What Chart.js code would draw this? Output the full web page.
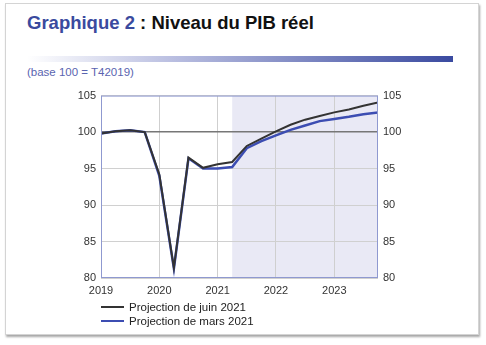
<!DOCTYPE html>
<html>
<head>
<meta charset="utf-8">
<script src="https://cdn.jsdelivr.net/npm/chart.js@4"></script>
<style>
  body { margin: 0; background: #fff; font-family: "Liberation Sans", Arial, sans-serif; }
  #card { position: absolute; left: 5px; top: 3px; width: 472px; height: 330px; background: #fff;
          border: 1px solid #d4d4d4; box-shadow: 1px 2px 2px rgba(0,0,0,0.35); }
  #title { position: absolute; left: 27px; top: 12px; font-size: 18.5px; font-weight: bold; color: #111; white-space: nowrap; }
  #title span { color: #3a4a9e; }
  #bar { position: absolute; left: 27px; top: 56px; width: 426px; height: 6px;
         background: linear-gradient(to right, #ffffff, #b8bde0 35%, #3a4aa0); }
  #sub { position: absolute; left: 27px; top: 66px; font-size: 11.5px; color: #5a64b0; }
  #wrap { position: absolute; left: 0; top: 84px; width: 486px; height: 218px; }
  #legend { position: absolute; left: 101px; top: 300px; font-size: 11.5px; color: #222; }
  .item { height: 14px; line-height: 14px; white-space: nowrap; }
  .sw { display: inline-block; width: 23px; height: 2px; vertical-align: middle; margin-right: 5px; position: relative; top: -1px; }
</style>
</head>
<body>
<div id="card"></div>
<div id="title"><span>Graphique 2</span> : Niveau du PIB réel</div>
<div id="bar"></div>
<div id="sub">(base 100 = T42019)</div>
<div id="wrap"><canvas id="chart"></canvas></div>
<div id="legend"></div>
<script>
// trimestres 2019T1 .. 2023T4, index 0..19
const quarters = ['2019T1','2019T2','2019T3','2019T4','2020T1','2020T2','2020T3','2020T4',
                  '2021T1','2021T2','2021T3','2021T4','2022T1','2022T2','2022T3','2022T4',
                  '2023T1','2023T2','2023T3','2023T4'];
const yearLabels = ['2019', '2020', '2021', '2022', '2023'];
const juin2021 = [99.8, 100.1, 100.25, 100.0, 94.2, 81.4, 96.5, 95.1,
                  95.6, 95.9, 98.1, 99.1, 100.1, 101.0, 101.7, 102.2,
                  102.7, 103.1, 103.6, 104.05];
const mars2021 = [99.8, 100.1, 100.25, 100.0, 94.0, 81.3, 96.4, 95.0,
                  95.0, 95.2, 97.8, 98.75, 99.55, 100.3, 100.9, 101.5,
                  101.8, 102.1, 102.45, 102.7];
const projStart = 9; // début de la zone de projection

const labelJuin = 'Projection de juin 2021';
const labelMars = 'Projection de mars 2021';
const colJuin = '#333333';
const colMars = '#3c4db2';

const shadePlugin = {
    id: 'shade',
    beforeDraw(chart) {
        const { ctx, chartArea, scales } = chart;
        const x0 = scales.x.getPixelForValue(projStart);
        ctx.save();
        ctx.fillStyle = '#e9e9f5';
        ctx.fillRect(x0, chartArea.top, chartArea.right - x0, chartArea.bottom - chartArea.top);
        ctx.restore();
    },
    afterDatasetsDraw(chart) {
        const { ctx, chartArea } = chart;
        ctx.save();
        ctx.strokeStyle = '#8f99d0';
        ctx.lineWidth = 1;
        ctx.strokeRect(chartArea.left + 0.5, chartArea.top + 0.5,
            chartArea.right - chartArea.left - 1, chartArea.bottom - chartArea.top - 1);
        ctx.restore();
    }
};

const tickFont = { family: '"Liberation Sans", Arial, sans-serif', size: 11 };

new Chart(document.getElementById('chart'), {
    type: 'line',
    data: {
        datasets: [{
            label: labelJuin,
            data: juin2021.map((v, i) => ({ x: i, y: v })),
            borderColor: colJuin,
            borderWidth: 2,
            pointRadius: 0,
            tension: 0
        }, {
            label: labelMars,
            data: mars2021.map((v, i) => ({ x: i, y: v })),
            borderColor: colMars,
            borderWidth: 2.5,
            pointRadius: 0,
            tension: 0
        }]
    },
    options: {
        responsive: true,
        maintainAspectRatio: false,
        animation: false,
        layout: { padding: { top: 10, left: 0, right: 0, bottom: 0 } },
        plugins: { legend: { display: false }, tooltip: { enabled: false } },
        scales: {
            x: {
                type: 'linear',
                min: 0,
                max: quarters.length - 1,
                afterFit: s => { s.height = 24; },
                ticks: {
                    stepSize: 4,
                    includeBounds: false,
                    autoSkip: false,
                    maxRotation: 0,
                    padding: 6,
                    color: '#333',
                    font: tickFont,
                    callback: v => yearLabels[v / 4] || ''
                },
                grid: {
                    drawTicks: false,
                    color: c => (c.tick && c.tick.value > 0 ? '#cfcfcf' : 'rgba(0,0,0,0)')
                },
                border: { display: false }
            },
            y: {
                position: 'left',
                min: 80,
                max: 105,
                afterFit: s => { s.width = 101; },
                ticks: { stepSize: 5, padding: 5, color: '#333', font: tickFont },
                grid: {
                    drawTicks: false,
                    color: c => (c.tick.value === 100 ? '#777777' : '#d0d0d0'),
                    lineWidth: c => (c.tick.value === 100 ? 1.5 : 1)
                },
                border: { display: false }
            },
            y2: {
                position: 'right',
                min: 80,
                max: 105,
                afterFit: s => { s.width = 108; },
                ticks: { stepSize: 5, padding: 5, color: '#333', font: tickFont },
                grid: { display: false, drawTicks: false },
                border: { display: false }
            }
        }
    },
    plugins: [shadePlugin]
});

document.getElementById('legend').innerHTML = [[labelJuin, colJuin], [labelMars, colMars]]
    .map(([l, c]) => `<div class="item"><span class="sw" style="background:${c}"></span>${l}</div>`)
    .join('');
</script>
</body>
</html>
